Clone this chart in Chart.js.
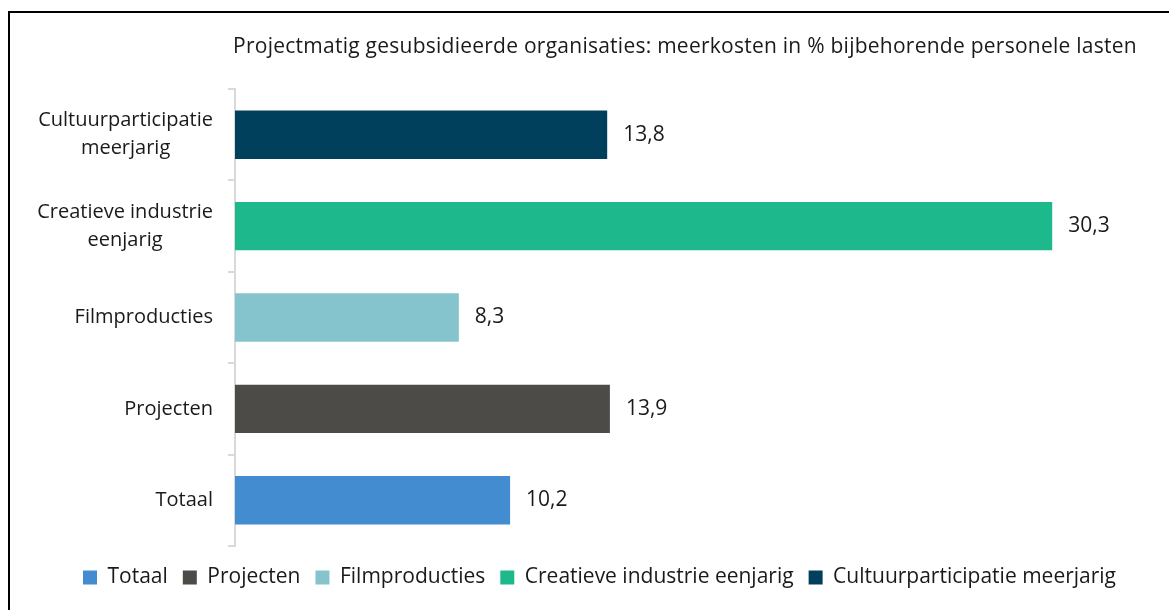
<!DOCTYPE html>
<html>
<head>
<meta charset="utf-8">
<script src="https://cdn.jsdelivr.net/npm/chart.js@4"></script>
<style>
  html, body { margin: 0; padding: 0; background: #fff; overflow: hidden; }
  #frame { position: absolute; left: 8px; top: 11px; width: 1300px; height: 800px; border: 2px solid #000; }
  #wrap { position: absolute; left: 0; top: 0; width: 1169px; height: 610px; }
</style>
</head>
<body>
<div id="frame"></div>
<div id="wrap"><canvas id="myBarChart" width="1169" height="610"></canvas></div>
<script>
// data, bottom to top as in the legend
var categories = ["Totaal", "Projecten", "Filmproducties", "Creatieve industrie eenjarig", "Cultuurparticipatie meerjarig"];
var tickLabels = [["Totaal"], ["Projecten"], ["Filmproducties"], ["Creatieve industrie", "eenjarig"], ["Cultuurparticipatie", "meerjarig"]];
var values = [10.2, 13.9, 8.3, 30.3, 13.8];
var colors = ["#438CCF", "#4D4B47", "#86C4CD", "#1DB98D", "#00405C"];
var titleText = "Projectmatig gesubsidieerde organisaties: meerkosten in % bijbehorende personele lasten";

var FONT = "'Open Sans', sans-serif";
var FSIZE = 21;
var TXT = "#1a1a1a";

// one dataset per category so the legend shows every bar
var datasets = categories.map(function (name, i) {
    return {
        label: name,
        data: values.map(function (v, j) { return j === i ? v : null; }),
        backgroundColor: colors[i],
        barPercentage: 0.53,
        categoryPercentage: 1
    };
});

// title, y labels and value labels drawn by hand
var drawText = {
    id: 'drawText',
    afterDatasetsDraw: function (chart) {
        var c = chart.ctx;
        c.save();
        c.fillStyle = TXT;
        c.textBaseline = 'middle';

        c.font = FSIZE + "px " + FONT;
        c.letterSpacing = '0.25px';
        c.textAlign = 'center';
        c.fillText(titleText, 685, 47);
        c.letterSpacing = '0px';

        // value labels
        chart.data.datasets.forEach(function (ds, i) {
            var meta = chart.getDatasetMeta(i);
            meta.data.forEach(function (bar, j) {
                var v = ds.data[j];
                if (v === null) return;
                c.textAlign = 'left';
                c.fillText(v.toFixed(1).replace('.', ','), bar.x + 16, bar.y);
            });
        });

        // category labels: block right aligned, lines centred in block
        c.font = "20px " + FONT;
        var y = chart.scales.y;
        var right = y.right - 22;
        var lh = 28;
        tickLabels.forEach(function (lines, i) {
            var py = y.getPixelForTick(i);
            var w = 0;
            lines.forEach(function (l) { w = Math.max(w, c.measureText(l).width); });
            var cx = right - w / 2;
            var top = py - (lines.length - 1) * lh / 2;
            c.textAlign = 'center';
            lines.forEach(function (l, k) { c.fillText(l, cx, top + k * lh); });
        });
        c.restore();
    }
};

var ctx = document.getElementById('myBarChart').getContext('2d');
var chart = new Chart(ctx, {
    type: 'bar',
    data: {
        labels: categories,
        datasets: datasets
    },
    plugins: [drawText],
    options: {
        indexAxis: 'y',
        responsive: false,
        animation: false,
        layout: { padding: { top: 89, left: 47, right: 17, bottom: 12 } },
        datasets: { bar: { grouped: false, skipNull: true } },
        scales: {
            x: {
                min: 0,
                max: 34,
                grid: { display: false, drawTicks: false },
                border: { display: false },
                ticks: { display: false },
                afterFit: function (s) { s.height = 6; }
            },
            y: {
                reverse: true,
                grid: { drawOnChartArea: false, drawTicks: true, tickLength: 7, color: '#d9d9d9', lineWidth: 2 },
                border: { color: '#d9d9d9', width: 2 },
                ticks: { display: false },
                afterFit: function (s) { s.width = 188; }
            }
        },
        plugins: {
            title: { display: false },
            tooltip: { enabled: false },
            legend: {
                position: 'bottom',
                labels: {
                    boxWidth: 14,
                    boxHeight: 14,
                    padding: 15,
                    color: TXT,
                    font: { family: FONT, size: FSIZE }
                }
            }
        }
    }
});
</script>
</body>
</html>
